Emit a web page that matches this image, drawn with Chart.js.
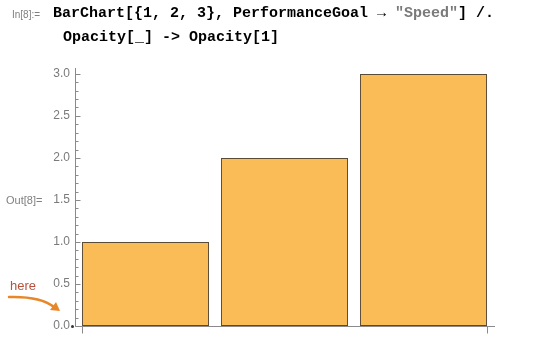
<!DOCTYPE html>
<html>
<head>
<meta charset="utf-8">
<script src="https://cdn.jsdelivr.net/npm/chart.js@4/dist/chart.umd.min.js"></script>
<style>
  html, body { margin: 0; padding: 0; background: #fff; width: 540px; height: 357px; overflow: hidden; }
  #wrap { position: relative; width: 540px; height: 357px; }
  canvas { position: absolute; left: 0; top: 0; }
  .t { position: absolute; white-space: pre; line-height: 1; }
  .lbl { font-family: "Liberation Sans", Arial, sans-serif; font-size: 10px; color: #808080; }
  .code { font-family: "Liberation Mono", "Courier New", monospace; font-weight: bold; font-size: 15px; color: #000; }
  .str { color: #7a7a7a; }
  .here { font-family: "Liberation Sans", Arial, sans-serif; font-size: 13px; color: #b5533e; }
</style>
</head>
<body>
<div id="wrap">
  <canvas id="c" width="540" height="357"></canvas>
  <div class="t lbl" style="left:12px; top:10px;">In[8]:=</div>
  <div class="t code" style="left:53px; top:6px;">BarChart[{1, 2, 3}, PerformanceGoal → <span class="str">"Speed"</span>] /.</div>
  <div class="t code" style="left:63px; top:30px;">Opacity[_] -&gt; Opacity[1]</div>
  <div class="t lbl" style="left:6px; top:195px; font-size:11px;">Out[8]=</div>
  <div class="t here" style="left:10px; top:279px;">here</div>
</div>
<script>
const categories = ['1', '2', '3'];
const values = [1, 2, 3];
const yTicks = [0, 0.5, 1, 1.5, 2, 2.5, 3];
const yMinorStep = 0.1;
const yMax = 3.07;

const axisPlugin = {
  id: 'mmaAxes',
  afterDraw(chart) {
    const ctx = chart.ctx;
    const y = chart.scales.y;
    const x = chart.scales.x;
    const area = chart.chartArea;
    const ax = 75.5;
    const ay = Math.round(y.getPixelForValue(0)) + 0.5;
    ctx.save();
    ctx.strokeStyle = '#8a8a8a';
    ctx.lineWidth = 1;
    ctx.beginPath();
    ctx.moveTo(ax, area.top);
    ctx.lineTo(ax, ay);
    ctx.moveTo(ax, ay);
    ctx.lineTo(area.right + 2, ay);
    ctx.stroke();
    // y ticks (major + minor) drawn inside
    ctx.beginPath();
    const n = Math.round(yTicks[yTicks.length - 1] / yMinorStep);
    for (let i = 0; i <= n; i++) {
      const v = i * yMinorStep;
      const py = Math.round(y.getPixelForValue(v)) + 0.5;
      const major = yTicks.some(t => Math.abs(t - v) < 1e-9);
      ctx.moveTo(ax, py);
      ctx.lineTo(ax + (major ? 5 : 3), py);
    }
    ctx.stroke();
    // x ticks at bar extremes
    const meta = chart.getDatasetMeta(0);
    const first = meta.data[0];
    const last = meta.data[meta.data.length - 1];
    const lx = Math.round(first.x - first.width / 2) + 0.5;
    const rx = Math.round(last.x + last.width / 2) + 0.5;
    ctx.beginPath();
    ctx.moveTo(lx, ay); ctx.lineTo(lx, ay + 7);
    ctx.moveTo(rx, ay); ctx.lineTo(rx, ay + 7);
    ctx.stroke();
    // dot at origin
    ctx.fillStyle = '#333';
    ctx.beginPath();
    ctx.arc(72.5, ay, 1.5, 0, Math.PI * 2);
    ctx.fill();
    // orange annotation arrow
    ctx.strokeStyle = '#e8872a';
    ctx.fillStyle = '#e8872a';
    ctx.lineWidth = 2.5;
    ctx.lineCap = 'round';
    ctx.beginPath();
    ctx.moveTo(9, 297);
    ctx.quadraticCurveTo(40, 296, 54, 307);
    ctx.stroke();
    ctx.beginPath();
    ctx.moveTo(60, 311);
    ctx.lineTo(50, 310);
    ctx.lineTo(56, 302);
    ctx.closePath();
    ctx.fill();
    ctx.restore();
  }
};

new Chart(document.getElementById('c'), {
  type: 'bar',
  data: {
    labels: categories,
    datasets: [{
      data: values,
      backgroundColor: '#fabc56',
      borderColor: '#5b4a36',
      borderWidth: 1,
      borderSkipped: false,
      barPercentage: 0.914,
      categoryPercentage: 1
    }]
  },
  options: {
    responsive: false,
    animation: false,
    devicePixelRatio: 1,
    layout: { padding: { top: 68, right: 47, left: 0, bottom: 0 } },
    plugins: { legend: { display: false }, tooltip: { enabled: false } },
    scales: {
      x: {
        type: 'category',
        offset: true,
        grid: { display: false, drawTicks: false },
        border: { display: false },
        ticks: { display: false },
        afterFit: s => { s.height = 31; }
      },
      y: {
        min: 0,
        max: yMax,
        grid: { display: false, drawTicks: false },
        border: { display: false },
        ticks: {
          color: '#7a7a7a',
          font: { family: 'Liberation Sans, Arial, sans-serif', size: 12 },
          padding: 6,
          callback: v => Number(v).toFixed(1)
        },
        afterBuildTicks: s => { s.ticks = yTicks.map(v => ({ value: v })); },
        afterFit: s => { s.width = 76; }
      }
    }
  },
  plugins: [axisPlugin]
});
</script>
</body>
</html>
